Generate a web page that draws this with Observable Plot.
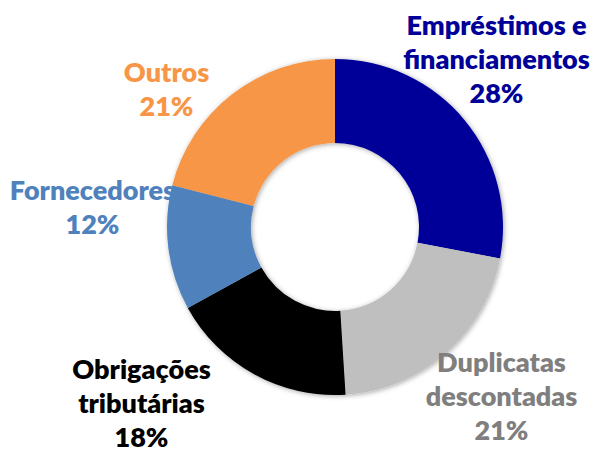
<!DOCTYPE html>
<html>
<head>
<meta charset="utf-8">
<script src="https://cdn.jsdelivr.net/npm/d3@7"></script>
<script src="https://cdn.jsdelivr.net/npm/@observablehq/plot@0.6"></script>
<style>
  html, body { margin: 0; padding: 0; background: #fff; }
</style>
</head>
<body>
<div id="chart"></div>
<script>
// ---- data ----
const categories = ["Empréstimos e financiamentos", "Duplicatas descontadas", "Obrigações tributárias", "Fornecedores", "Outros"];
const values = [28, 21, 18, 12, 21];
const labelText = ["Empréstimos e\nfinanciamentos", "Duplicatas\ndescontadas", "Obrigações\ntributárias", "Fornecedores", "Outros"];

// ---- styles / layout ----
const sliceColors = ["#000099", "#BFBFBF", "#000000", "#4F81BD", "#F79646"];
const labelColors = ["#000099", "#7F7F7F", "#000000", "#4F81BD", "#F79646"];
const labelAnchors = [[496, 58], [501, 395], [141, 402], [92, 206], [166, 88]];
const center = [335, 227];
const outerR = 168, innerR = 84;

const data = categories.map((c, i) => ({
  category: c,
  value: values[i],
  label: labelText[i] + "\n" + values[i] + "%",
  sliceColor: sliceColors[i],
  labelColor: labelColors[i],
  lx: labelAnchors[i][0],
  ly: labelAnchors[i][1]
}));

function donut(index, scales) {
  const {x, y} = scales;
  const cx = x(center[0]), cy = y(center[1]);
  const ro = x(center[0] + outerR) - cx;
  const ri = x(center[0] + innerR) - cx;
  const arcs = d3.pie().sort(null).value(d => d.value)(data);
  const arc = d3.arc().innerRadius(ri).outerRadius(ro);
  const g = d3.create("svg:g");
  const filter = g.append("defs").append("filter")
    .attr("id", "shadow").attr("x", "-20%").attr("y", "-20%").attr("width", "140%").attr("height", "140%");
  filter.append("feDropShadow")
    .attr("dx", 1).attr("dy", 1).attr("stdDeviation", 2.5)
    .attr("flood-color", "#000").attr("flood-opacity", 0.35);
  g.append("g")
    .attr("transform", `translate(${cx},${cy})`)
    .attr("filter", "url(#shadow)")
    .selectAll("path")
    .data(arcs)
    .join("path")
    .attr("d", arc)
    .attr("fill", d => d.data.sliceColor);
  return g.node();
}

const chart = Plot.plot({
  width: 594,
  height: 450,
  margin: 0,
  style: {background: "#fff"},
  x: {domain: [0, 594], range: [0, 594], axis: null},
  y: {domain: [0, 450], range: [0, 450], axis: null},
  color: {type: "identity"},
  marks: [
    donut,
    Plot.text(data, {
      x: "lx",
      y: "ly",
      text: "label",
      fill: "labelColor",
      fontSize: 27,
      fontWeight: 800,
      fontFamily: "Lato",
      lineHeight: 1.26,
      textAnchor: "middle"
    })
  ]
});
document.getElementById("chart").appendChild(chart);
</script>
</body>
</html>
